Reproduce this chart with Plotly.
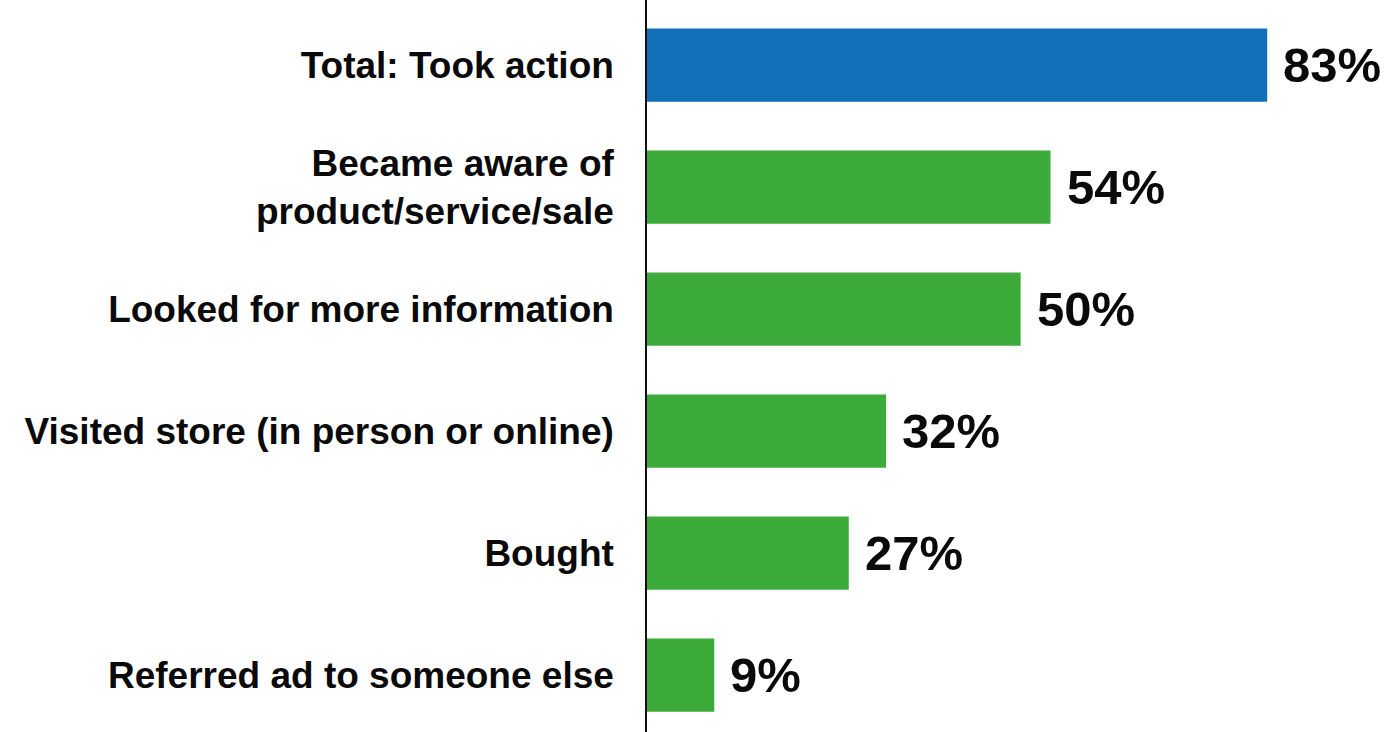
import plotly.graph_objects as go

# Share of respondents taking each action after seeing the ad
categories = [
    "Total: Took action",
    "Became aware of<br>product/service/sale",
    "Looked for more information",
    "Visited store (in person or online)",
    "Bought",
    "Referred ad to someone else",
]
values = [83, 54, 50, 32, 27, 9]
bar_colors = ["#1170b9", "#3dab3a", "#3dab3a", "#3dab3a", "#3dab3a", "#3dab3a"]

FONT = "Liberation Sans, Arial, sans-serif"

fig = go.Figure(
    go.Bar(
        x=values,
        y=categories,
        orientation="h",
        marker=dict(color=bar_colors, line=dict(width=0)),
        width=0.6,
        hoverinfo="skip",
    )
)

# Percentage labels just past the end of each bar
for cat, v in zip(categories, values):
    fig.add_annotation(
        x=v, y=cat, text=f"<b>{v}%</b>", showarrow=False,
        xanchor="left", yanchor="middle", xshift=14, yshift=0,
        font=dict(family=FONT, size=49, color="#0a0a0a"),
    )

fig.update_layout(
    width=1389, height=732,
    margin=dict(l=647, r=0, t=0, b=0),
    paper_bgcolor="white", plot_bgcolor="white",
    showlegend=False,
    bargap=0.4,
    xaxis=dict(range=[0, 99.3], visible=False, showgrid=False, zeroline=False),
    yaxis=dict(
        range=[5.467, -0.533],
        showline=True, linecolor="#111111", linewidth=1.5,
        showgrid=False, zeroline=False,
        ticks="", ticklabelstandoff=24,
        tickfont=dict(family=FONT, size=37, color="#0a0a0a", weight="bold"),
    ),
)

fig.write_html("out.html")
